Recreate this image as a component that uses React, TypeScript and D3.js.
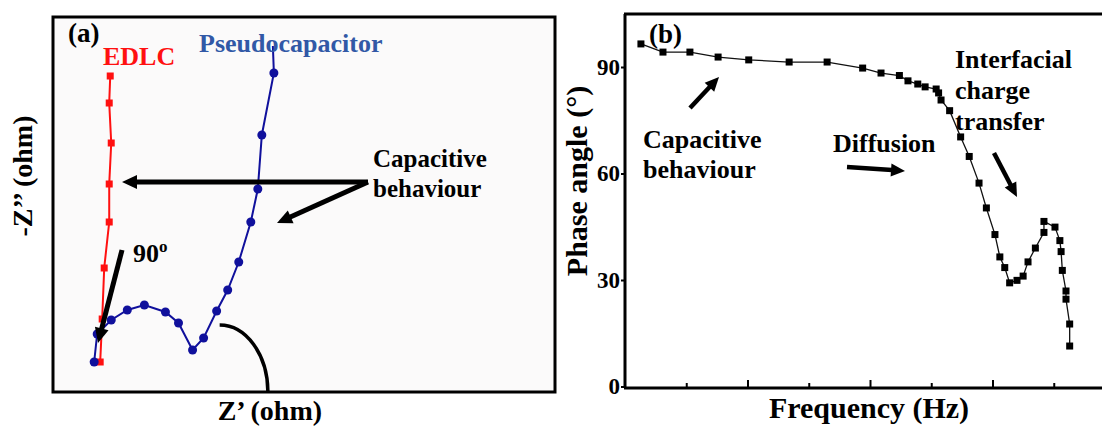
import React, { useRef, useEffect } from 'react';
import * as d3 from 'd3';

// panel (a): Nyquist plot, arbitrary Z' / -Z'' units
const edlcZre = [4.7, 4.9, 5.1, 5.6, 5.6, 5.8, 5.6, 5.7];
const edlcZim = [3.0, 7.3, 12.4, 17.0, 20.8, 24.9, 28.9, 31.6];

const pseudoZre = [4.1, 4.4, 5.8, 7.4, 9.1, 11.2, 12.5, 13.9, 15.0, 16.3, 17.4, 18.5, 19.7, 20.4, 20.8, 22.0, 21.9];
const pseudoZim = [3.0, 5.8, 7.2, 8.2, 8.7, 8.0, 6.9, 4.2, 5.4, 8.1, 10.2, 13.0, 17.0, 20.3, 25.7, 31.9, 34.6];

// panel (b): Bode phase plot, log10(frequency) vs phase angle
const logFreq = [-0.87, -0.69, -0.47, -0.24, 0.01, 0.34, 0.65, 0.94, 1.09, 1.24, 1.31, 1.39, 1.45, 1.54, 1.56, 1.58, 1.65, 1.74, 1.81, 1.89, 1.95, 2.02, 2.06, 2.1, 2.14, 2.2, 2.25, 2.29, 2.35, 2.42, 2.42, 2.51, 2.55, 2.56, 2.57, 2.6, 2.6, 2.63, 2.63];
const phase = [96.5, 94.2, 94.2, 92.8, 92.0, 91.4, 91.4, 89.7, 88.3, 87.6, 86.1, 85.2, 84.4, 83.8, 82.7, 80.7, 77.7, 70.3, 64.8, 57.3, 50.3, 42.8, 36.5, 33.5, 29.2, 29.9, 31.1, 35.1, 39.0, 43.4, 46.5, 44.9, 41.1, 38.0, 32.7, 26.9, 24.6, 17.6, 11.4];

const phaseTicks = [0, 30, 60, 90];
const freqMajor = [0, 1, 2];
const freqMinor = [-0.5, 0.5, 1.5, 2.5];

const W = 1103;
const H = 427;
const FONT = '"Liberation Serif", "Times New Roman", serif';

function arrow(g, x1, y1, x2, y2, width, headLen, headHalf) {
  const dx = x2 - x1, dy = y2 - y1;
  const len = Math.hypot(dx, dy);
  const ux = dx / len, uy = dy / len;
  const bx = x2 - ux * headLen, by = y2 - uy * headLen;
  g.append('line')
    .attr('x1', x1).attr('y1', y1).attr('x2', bx + ux).attr('y2', by + uy)
    .attr('stroke', '#000').attr('stroke-width', width);
  g.append('polygon')
    .attr('points', [
      [x2, y2],
      [bx - uy * headHalf, by + ux * headHalf],
      [bx + uy * headHalf, by - ux * headHalf],
    ].map(p => p.join(',')).join(' '))
    .attr('fill', '#000');
}

function label(g, x, y, text, size, fill = '#000') {
  return g.append('text')
    .attr('x', x).attr('y', y)
    .attr('font-family', FONT).attr('font-weight', 'bold')
    .attr('font-size', size).attr('fill', fill)
    .text(text);
}

export default function App() {
  const svgRef = useRef(null);

  useEffect(() => {
    if (!svgRef.current) return;
    const svg = d3.select(svgRef.current);
    svg.selectAll('*').remove();

    // ---------- panel (a) ----------
    const a = svg.append('g');
    const xA = d3.scaleLinear().domain([0, 50]).range([53, 555]);
    const yA = d3.scaleLinear().domain([0, 37.5]).range([392, 17]);

    a.append('rect')
      .attr('x', xA(0)).attr('y', yA(37.5))
      .attr('width', xA(50) - xA(0)).attr('height', yA(0) - yA(37.5))
      .attr('fill', '#fbfafa').attr('stroke', '#000').attr('stroke-width', 3);

    const edlc = edlcZre.map((v, i) => [v, edlcZim[i]]);
    const pseudo = pseudoZre.map((v, i) => [v, pseudoZim[i]]);
    const lineA = d3.line().x(d => xA(d[0])).y(d => yA(d[1]));

    a.append('path').attr('d', lineA(edlc))
      .attr('fill', 'none').attr('stroke', '#ff1010').attr('stroke-width', 2);
    a.selectAll('rect.edlc').data(edlc).enter().append('rect')
      .attr('class', 'edlc')
      .attr('x', d => xA(d[0]) - 3.5).attr('y', d => yA(d[1]) - 3.5)
      .attr('width', 7).attr('height', 7).attr('fill', '#ff1010');

    a.append('path').attr('d', lineA(pseudo))
      .attr('fill', 'none').attr('stroke', '#10109c').attr('stroke-width', 2);
    a.selectAll('circle.pseudo').data(pseudo.slice(0, -1)).enter().append('circle')
      .attr('class', 'pseudo')
      .attr('cx', d => xA(d[0])).attr('cy', d => yA(d[1])).attr('r', 4.5)
      .attr('fill', '#10109c');

    // 90 degree arc
    const cx = xA(16.6), cy = yA(0);
    a.append('path')
      .attr('d', `M${cx},${yA(6.7)} A${xA(21.4) - cx},${cy - yA(6.7)} 0 0 1 ${xA(21.4)},${cy - 1}`)
      .attr('fill', 'none').attr('stroke', '#000').attr('stroke-width', 3.5);

    arrow(a, 368, 182, 122, 182, 5, 15, 7);
    arrow(a, 368, 182, 277, 223, 5, 15, 7);
    arrow(a, 122, 250, 98, 343, 5, 15, 7);

    label(a, 68, 42, '(a)', 27);
    label(a, 103, 65, 'EDLC', 26, '#ff1010');
    label(a, 199, 52, 'Pseudocapacitor', 26, '#3158a6');
    label(a, 373, 167, 'Capacitive', 25);
    label(a, 373, 197, 'behaviour', 25);
    const t90 = label(a, 133, 262, '90', 26);
    t90.append('tspan').attr('font-size', 17).attr('dy', -10).text('o');

    label(a, xA(21.6), 420, 'Z\u2019 (ohm)', 28).attr('text-anchor', 'middle');
    label(a, 0, 0, '-Z\u2019\u2019 (ohm)', 28)
      .attr('text-anchor', 'middle')
      .attr('transform', `translate(32,176) rotate(-90)`);

    // ---------- panel (b) ----------
    const b = svg.append('g');
    const xB = d3.scaleLinear().domain([-1, 2.9]).range([625, 1102.75]);
    const yB = d3.scaleLinear().domain([0, 90]).range([386.5, 67]);

    b.append('line')
      .attr('x1', 624).attr('x2', 1102).attr('y1', yB(104.9)).attr('y2', yB(104.9))
      .attr('stroke', '#000').attr('stroke-width', 3);

    const axisL = b.append('g').attr('transform', 'translate(625,0)')
      .call(d3.axisLeft(yB).tickValues(phaseTicks).tickSize(4).tickPadding(1).tickSizeOuter(0));
    axisL.select('.domain').attr('d', `M0,${yB(104.9)}V388`).attr('stroke-width', 3);
    axisL.selectAll('.tick line').attr('stroke-width', 2);
    axisL.selectAll('.tick text')
      .attr('font-family', FONT).attr('font-weight', 'bold').attr('font-size', 23).attr('fill', '#000');

    const axisMaj = b.append('g').attr('transform', 'translate(0,388)')
      .call(d3.axisBottom(xB).tickValues(freqMajor).tickSize(-8).tickSizeOuter(0).tickFormat(() => ''));
    axisMaj.select('.domain').attr('d', 'M624,0H1102').attr('stroke-width', 3);
    axisMaj.selectAll('.tick line').attr('stroke-width', 2);
    const axisMin = b.append('g').attr('transform', 'translate(0,388)')
      .call(d3.axisBottom(xB).tickValues(freqMinor).tickSize(-5).tickSizeOuter(0).tickFormat(() => ''));
    axisMin.select('.domain').remove();
    axisMin.selectAll('.tick line').attr('stroke-width', 2);

    const bode = logFreq.map((v, i) => [v, phase[i]]);
    b.append('path')
      .attr('d', d3.line().x(d => xB(d[0])).y(d => yB(d[1]))(bode))
      .attr('fill', 'none').attr('stroke', '#111').attr('stroke-width', 1.3);
    b.selectAll('rect.pt').data(bode).enter().append('rect')
      .attr('class', 'pt')
      .attr('x', d => xB(d[0]) - 3.5).attr('y', d => yB(d[1]) - 3.5)
      .attr('width', 7).attr('height', 7).attr('fill', '#000');

    arrow(b, 690, 108, 719, 77, 4.5, 14, 6.5);
    arrow(b, 847, 167, 905, 171, 4.5, 14, 6.5);
    arrow(b, 994, 153, 1017, 197, 4.5, 14, 6.5);

    label(b, 649, 43, '(b)', 27);
    label(b, 643, 148, 'Capacitive', 26);
    label(b, 643, 178, 'behaviour', 26);
    label(b, 833, 152, 'Diffusion', 26);
    label(b, 955, 68, 'Interfacial', 26);
    label(b, 955, 99, 'charge', 26);
    label(b, 955, 130, 'transfer', 26);

    label(b, 869, 418, 'Frequency (Hz)', 30).attr('text-anchor', 'middle');
    label(b, 0, 0, 'Phase angle (\u00b0)', 30)
      .attr('text-anchor', 'middle')
      .attr('transform', 'translate(587,181) rotate(-90)');
  }, []);

  return (
    <svg ref={svgRef} width={W} height={H}
      style={{ position: 'absolute', left: 0, top: 0, background: '#fff' }} />
  );
}
